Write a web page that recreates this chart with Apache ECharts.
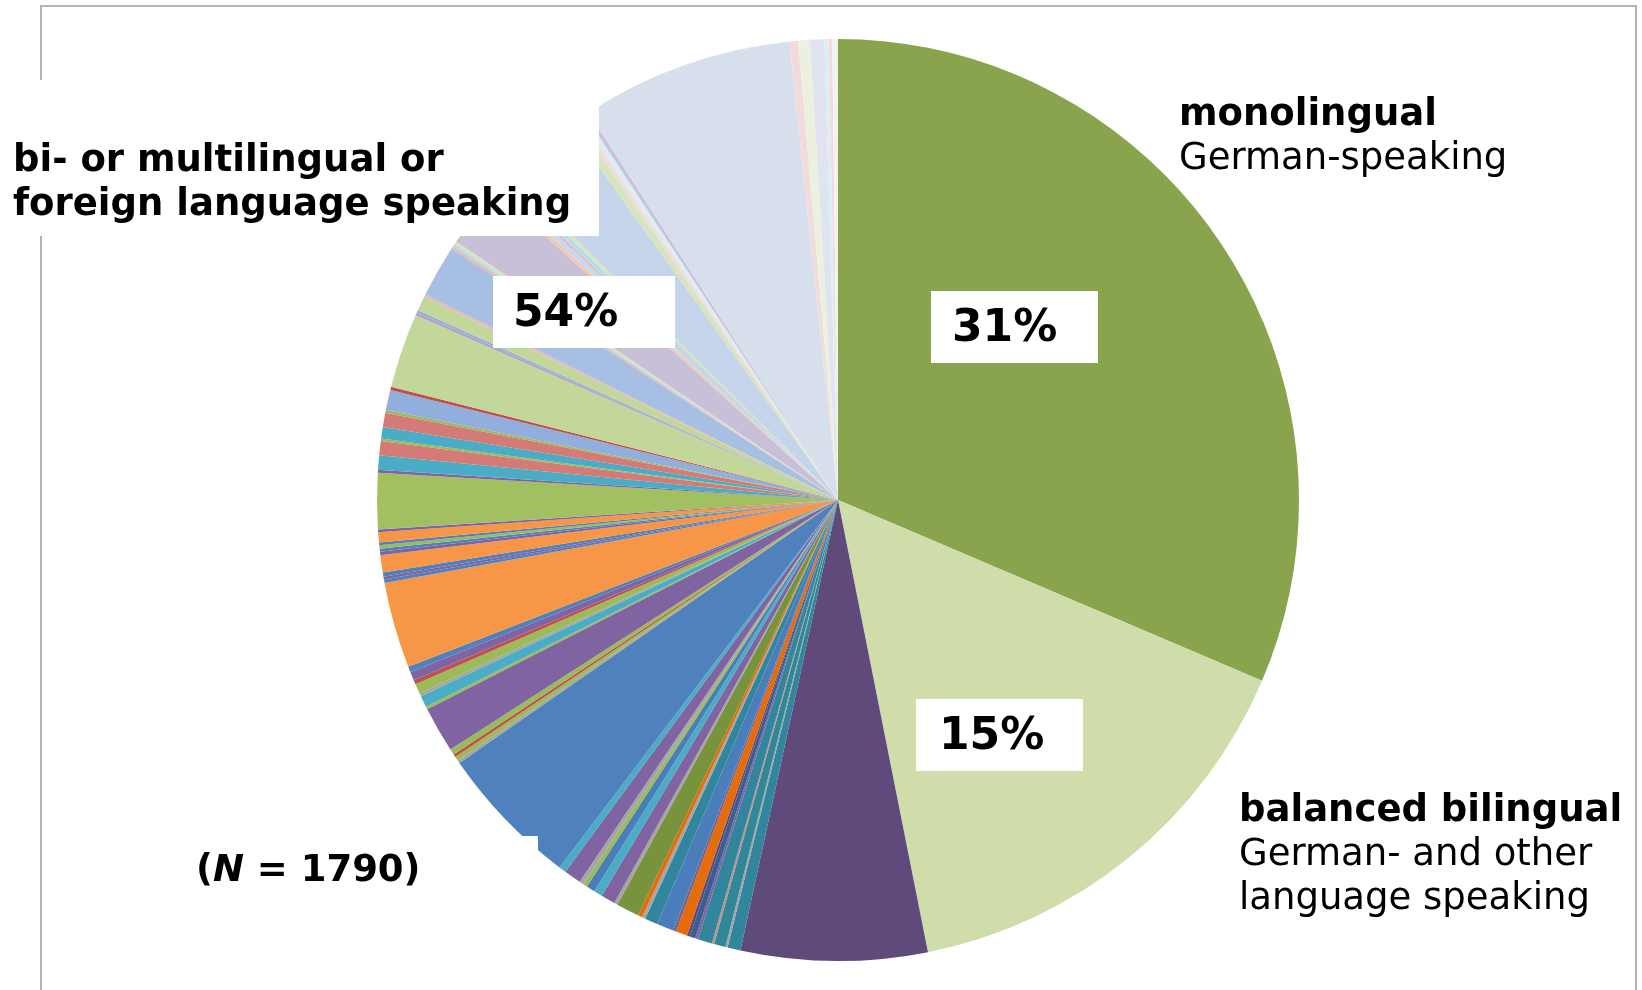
<!DOCTYPE html>
<html>
<head>
<meta charset="utf-8">
<title>Language groups</title>
<script src="https://cdn.jsdelivr.net/npm/echarts@6/dist/echarts.min.js"></script>
<style>
  html, body { margin: 0; padding: 0; background: #fff; }
  #chart { width: 1642px; height: 990px; }
</style>
</head>
<body>
<div id="chart"></div>
<script>
// three language groups, share of respondents
const groupLabels = ["monolingual", "balanced bilingual", "bi- or multilingual or foreign language speaking"];
const groupPercents = ["31%", "15%", "54%"];
const sampleSize = 1790;

// every slice clockwise from 12 o'clock, in % of respondents
// (slice 1 = monolingual, slice 2 = balanced bilingual, the rest = single languages)
const sliceValues = [
  31.3, 15.4, 6.5,
  0.45, 0.08, 0.4, 0.08, 0.5, 0.1, 0.2, 0.1, 0.4, 0.1, 0.6, 0.45, 0.12, 0.15, 0.8, 0.12, 0.5, 0.3, 0.3, 0.15, 0.15, 0.6, 0.25,
  5.0,
  0.1, 0.15, 0.1, 0.2,
  1.6,
  0.1, 0.4, 0.1, 0.35, 0.15, 0.3, 0.2,
  3.0,
  0.12, 0.1, 0.15, 0.6, 0.12, 0.1, 0.12, 0.1, 0.35, 0.1,
  1.95,
  0.1, 0.5, 0.5, 0.08, 0.4, 0.5, 0.1, 0.7, 0.12,
  2.6, 0.1, 0.1, 0.5, 0.1,
  1.8,
  0.1, 0.1, 0.1,
  2.2,
  0.15, 0.2, 0.1, 0.2, 0.15,
  2.6,
  0.3, 0.15, 0.2, 0.15,
  7.4,
  0.3, 0.4, 0.5, 0.15, 0.12, 0.2
];

const sliceColors = [
  "#8aa34d", "#cfddab", "#604a7b",
  "#31859c", "#a5a5a5", "#2f8797", "#c09090", "#31859c", "#8064a2", "#376092", "#5f497a", "#e46c0a", "#7f6084", "#4a7ebb", "#31859c", "#a5a5a5", "#e46c0a", "#77933c", "#a5a5a5", "#8064a2", "#4bacc6", "#4a7ebb", "#9bbb59", "#a5a5a5", "#8064a2", "#4bacc6",
  "#4f81bd",
  "#a5a5a5", "#9bbb59", "#c0504d", "#9bbb59",
  "#8064a2",
  "#9bbb59", "#4bacc6", "#a5a5a5", "#9bbb59", "#c0504d", "#8064a2", "#4f81bd",
  "#f79646",
  "#4f81bd", "#8064a2", "#4f81bd", "#f79646", "#8064a2", "#4f81bd", "#9bbb59", "#4f81bd", "#f79646", "#8064a2",
  "#a2c062",
  "#8064a2", "#4bacc6", "#d47b78", "#9bbb59", "#4bacc6", "#d47b78", "#9bbb59", "#91aedc", "#c0504d",
  "#c4d79b", "#b3a2c7", "#95b3d7", "#c4d79b", "#e6b9b8",
  "#a7bfe2",
  "#e6b9b8", "#b7dee8", "#d7e4bd",
  "#c9bfd9",
  "#f2c9b0", "#c6d9f1", "#e6b9b8", "#b7dee8", "#d7e4bd",
  "#c5d4ea",
  "#d7e4bd", "#f2dcdb", "#dbeef4", "#ccc1da",
  "#d8dfec",
  "#f2dcdb", "#ebf1de", "#e0e4f0", "#dbeef3", "#f2dcdb", "#f2f2f2"
];

const FONT = '"DejaVu Sans", Verdana, sans-serif';

const chart = echarts.init(document.getElementById("chart"));

function label(text, x, y, bold, size) {
  return {
    type: "text",
    z: 101,
    style: {
      text: text,
      x: x,
      y: y,
      font: (bold ? "bold " : "") + (size || 37) + "px " + FONT,
      fill: "#000",
      textAlign: "left",
      textVerticalAlign: "middle",
      align: "left",
      verticalAlign: "middle"
    }
  };
}

function whiteBox(x, y, w, h) {
  return {
    type: "rect",
    z: 100,
    shape: { x: x, y: y, width: w, height: h },
    style: { fill: "#fff" }
  };
}

chart.setOption({
  animation: false,
  backgroundColor: "#fff",
  series: [
    {
      type: "pie",
      silent: true,
      center: [838, 500],
      radius: 461,
      startAngle: 90,
      clockwise: true,
      avoidLabelOverlap: false,
      label: { show: false },
      labelLine: { show: false },
      itemStyle: { borderWidth: 0 },
      emphasis: { disabled: true },
      data: sliceValues.map((v, i) => ({
        name: "slice " + (i + 1),
        value: v,
        itemStyle: { color: sliceColors[i] }
      }))
    }
  ],
  graphic: [
    // plot frame
    {
      type: "rect",
      z: 1,
      shape: { x: 41, y: 6, width: 1595, height: 1000 },
      style: { fill: null, stroke: "#b4b4b4", lineWidth: 2 }
    },
    // boxes behind the labels
    whiteBox(0, 80, 599, 156),
    whiteBox(60, 836, 478, 154),
    whiteBox(931, 291, 167, 72),
    whiteBox(916, 699, 167, 72),
    whiteBox(493, 276, 182, 72),

    label(groupLabels[0], 1179, 115, true),
    label("German-speaking", 1179, 159, false),

    label("bi- or multilingual or", 13, 161, true),
    label("foreign language speaking", 13, 205, true),

    label(groupLabels[1], 1239, 811, true),
    label("German- and other", 1239, 855, false),
    label("language speaking", 1239, 899, false),

    label(groupPercents[0], 952, 330, true, 44),
    label(groupPercents[1], 939, 738, true, 44),
    label(groupPercents[2], 513, 315, true, 44),

    {
      type: "text",
      z: 101,
      style: {
        text: "{b|(}{i|N}{b| = " + sampleSize + ")}",
        x: 196,
        y: 871,
        textAlign: "left",
        textVerticalAlign: "middle",
        align: "left",
        verticalAlign: "middle",
        rich: {
          b: { font: "bold 37px " + FONT, fill: "#000", color: "#000" },
          i: { font: "italic bold 37px " + FONT, fill: "#000", color: "#000" }
        }
      }
    }
  ]
});
</script>
</body>
</html>
